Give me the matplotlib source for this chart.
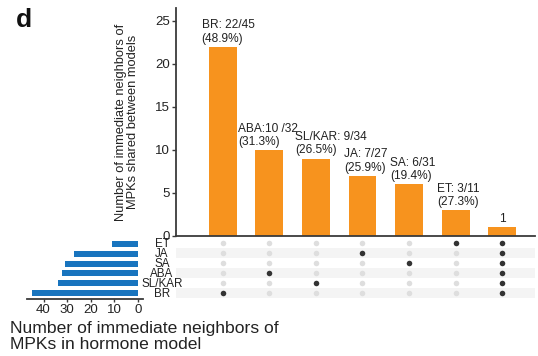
import matplotlib
matplotlib.use("Agg")
import matplotlib.pyplot as plt

plt.rcParams['font.family'] = ['Liberation Sans', 'DejaVu Sans']

# Hormone models (matrix rows, bottom to top)
hormones = ["BR", "SL/KAR", "ABA", "SA", "JA", "ET"]
# Immediate neighbours of MPKs in each hormone model
model_sizes = [45, 34, 32, 31, 27, 11]

# Intersection columns: which hormone models are included
col_sets = [["BR"], ["ABA"], ["SL/KAR"], ["JA"], ["SA"], ["ET"],
            ["BR", "SL/KAR", "ABA", "SA", "JA", "ET"]]
# Neighbours shared between models for each column
shared_counts = [22, 10, 9, 7, 6, 3, 1]
bar_labels = ["BR: 22/45\n(48.9%)", "ABA:10 /32\n(31.3%)", "SL/KAR: 9/34\n(26.5%)",
              "JA: 7/27\n(25.9%)", "SA: 6/31\n(19.4%)", "ET: 3/11\n(27.3%)", "1"]

top_ticks = [0, 5, 10, 15, 20, 25]
side_ticks = [40, 30, 20, 10, 0]

ORANGE = "#F7931E"
BLUE = "#1874BE"
DARK = "#333333"
LIGHT = "#DEDEDE"
STRIPE = "#F4F4F4"
SPINE = "#3a3a3a"

W, H = 538, 356
fig = plt.figure(figsize=(W / 100, H / 100), dpi=100)


def frac(x0, y0, x1, y1):
    return [x0 / W, 1 - y1 / H, (x1 - x0) / W, (y1 - y0) / H]


ncol = len(shared_counts)
xs = list(range(ncol))
xlim = (-1.0, 6.7)

# Intersection size bars
ax_top = fig.add_axes(frac(176, 8, 535, 236))
ax_top.bar(xs, shared_counts, width=0.6, color=ORANGE)
ax_top.set_xlim(*xlim)
ax_top.set_ylim(0, 26.5)
ax_top.set_yticks(top_ticks)
ax_top.set_xticks([])
for s in ["top", "right"]:
    ax_top.spines[s].set_visible(False)
for s in ["left", "bottom"]:
    ax_top.spines[s].set_color(SPINE)
    ax_top.spines[s].set_linewidth(1.3)
ax_top.tick_params(axis="y", labelsize=9.5, length=3, width=1, color=SPINE,
                   colors="#222222", pad=1.5)
ax_top.set_ylabel("Number of immediate neighbors of\nMPKs shared between models",
                  fontsize=9.3, linespacing=0.95, color="#222222")
ax_top.yaxis.set_label_coords(-0.103, 0.5)

label_dx = [-0.45, -0.66, -0.45, -0.4, -0.4, -0.4, 0.0]
for x, v, lab, dx in zip(xs, shared_counts, bar_labels, label_dx):
    ha = "center" if dx == 0 else "left"
    ax_top.annotate(lab, (x + dx, v), xytext=(0, 1.5), textcoords="offset points",
                    ha=ha, va="bottom", fontsize=8.6, linespacing=1.15,
                    color="#222222")

# Membership matrix
ax_m = fig.add_axes(frac(176, 238, 535, 298))
ax_m.set_xlim(*xlim)
ax_m.set_ylim(-0.5, len(hormones) - 0.5)
for i in range(len(hormones)):
    if i % 2 == 0:
        ax_m.axhspan(i - 0.5, i + 0.5, xmin=0.0, xmax=1.0, color=STRIPE, lw=0, zorder=0)
for x, members in zip(xs, col_sets):
    for i, h in enumerate(hormones):
        ax_m.scatter(x, i, s=16, color=DARK if h in members else LIGHT,
                     lw=0, zorder=3)
ax_m.set_xticks([])
ax_m.set_yticks([])
for s in ax_m.spines.values():
    s.set_visible(False)
for i, h in enumerate(hormones):
    fig.text(162 / W, 1 - (293 - 10 * i + 1) / H, h, ha="center", va="center",
             fontsize=8.4, color="#222222")

# Model size bars
ax_l = fig.add_axes(frac(27, 238, 143, 299))
ax_l.barh(range(len(hormones)), model_sizes, height=0.6, color=BLUE)
ax_l.set_xlim(47, -2.1)
ax_l.set_ylim(-0.6, len(hormones) - 0.4)
ax_l.set_xticks(side_ticks)
ax_l.set_yticks([])
for s in ["top", "right", "left"]:
    ax_l.spines[s].set_visible(False)
ax_l.spines["bottom"].set_color(SPINE)
ax_l.spines["bottom"].set_linewidth(1.3)
ax_l.tick_params(axis="x", labelsize=9.5, length=2, width=1, color=SPINE,
                 colors="#222222", pad=1.5)

fig.text(10 / W, 1 - 321 / H, "Number of immediate neighbors of\nMPKs in hormone model",
         ha="left", va="top", fontsize=12.6, linespacing=1.12, color="#222222")

fig.text(16 / W, 1 - 8 / H, "d", ha="left", va="top", fontsize=19,
         fontweight="bold", color="#111111")

fig.savefig("out.png", dpi=100)
